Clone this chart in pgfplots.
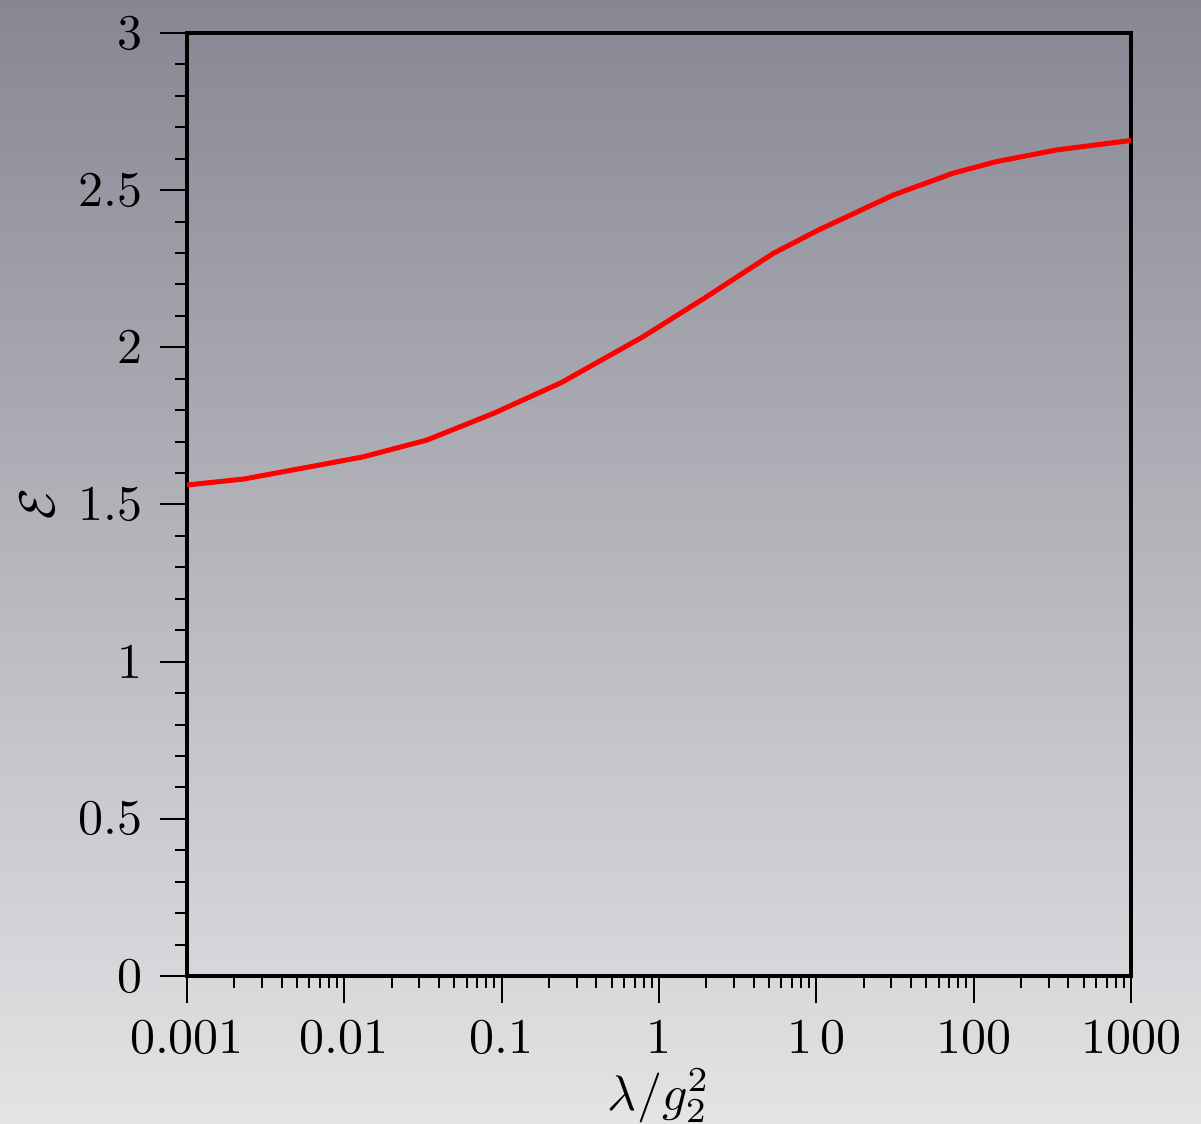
\documentclass[border=0pt]{standalone}
\usepackage{pgfplots}
\pgfplotsset{compat=1.18}
\begin{document}
\begin{tikzpicture}
% background gradient (whole picture)
\shade[top color={rgb,255:red,135;green,135;blue,147}, bottom color={rgb,255:red,228;green,228;blue,230}]
  (-37.4pt,-29.4pt) rectangle (202.8pt,195.2pt);
\begin{axis}[
    at={(0,0)}, anchor=south west,
    width=188.8pt, height=188.6pt,
    scale only axis,
    xmode=log,
    xmin=0.001, xmax=1000,
    ymin=0, ymax=3,
    xtick={0.001,0.01,0.1,1,10,100,1000},
    xticklabels={0.001,0.01,0.1,1,1\,0,100,1000},
    ytick={0,0.5,1,1.5,2,2.5,3},
    yticklabels={0,0.5,1,1.5,2,2.5,3},
    minor y tick num=4,
    tick pos=left,
    tick align=outside,
    major tick length=5.4pt,
    minor tick length=2.4pt,
    every tick/.style={black, line width=0.4pt},
    axis line style={line width=0.9pt},
    xlabel={$\lambda/g_2^2$},
    ylabel={$\mathcal{E}$},
    xlabel style={yshift=4pt},
    ylabel style={yshift=-2pt},
]
\addplot[red, line width=1pt] coordinates {
(0.001,1.562) (0.00229,1.581) (0.00703,1.626) (0.01327,1.652) (0.0335,1.705)
(0.0889,1.790) (0.240,1.888) (0.794,2.034) (2.01,2.161) (5.33,2.299)
(10.3,2.373) (30.7,2.484) (74.0,2.554) (140,2.591) (337,2.628)
(769,2.651) (1000,2.658)
};
\end{axis}
\pgfresetboundingbox
\path[use as bounding box] (-37.4pt,-29.4pt) rectangle (202.8pt,195.2pt);
\end{tikzpicture}
\end{document}
